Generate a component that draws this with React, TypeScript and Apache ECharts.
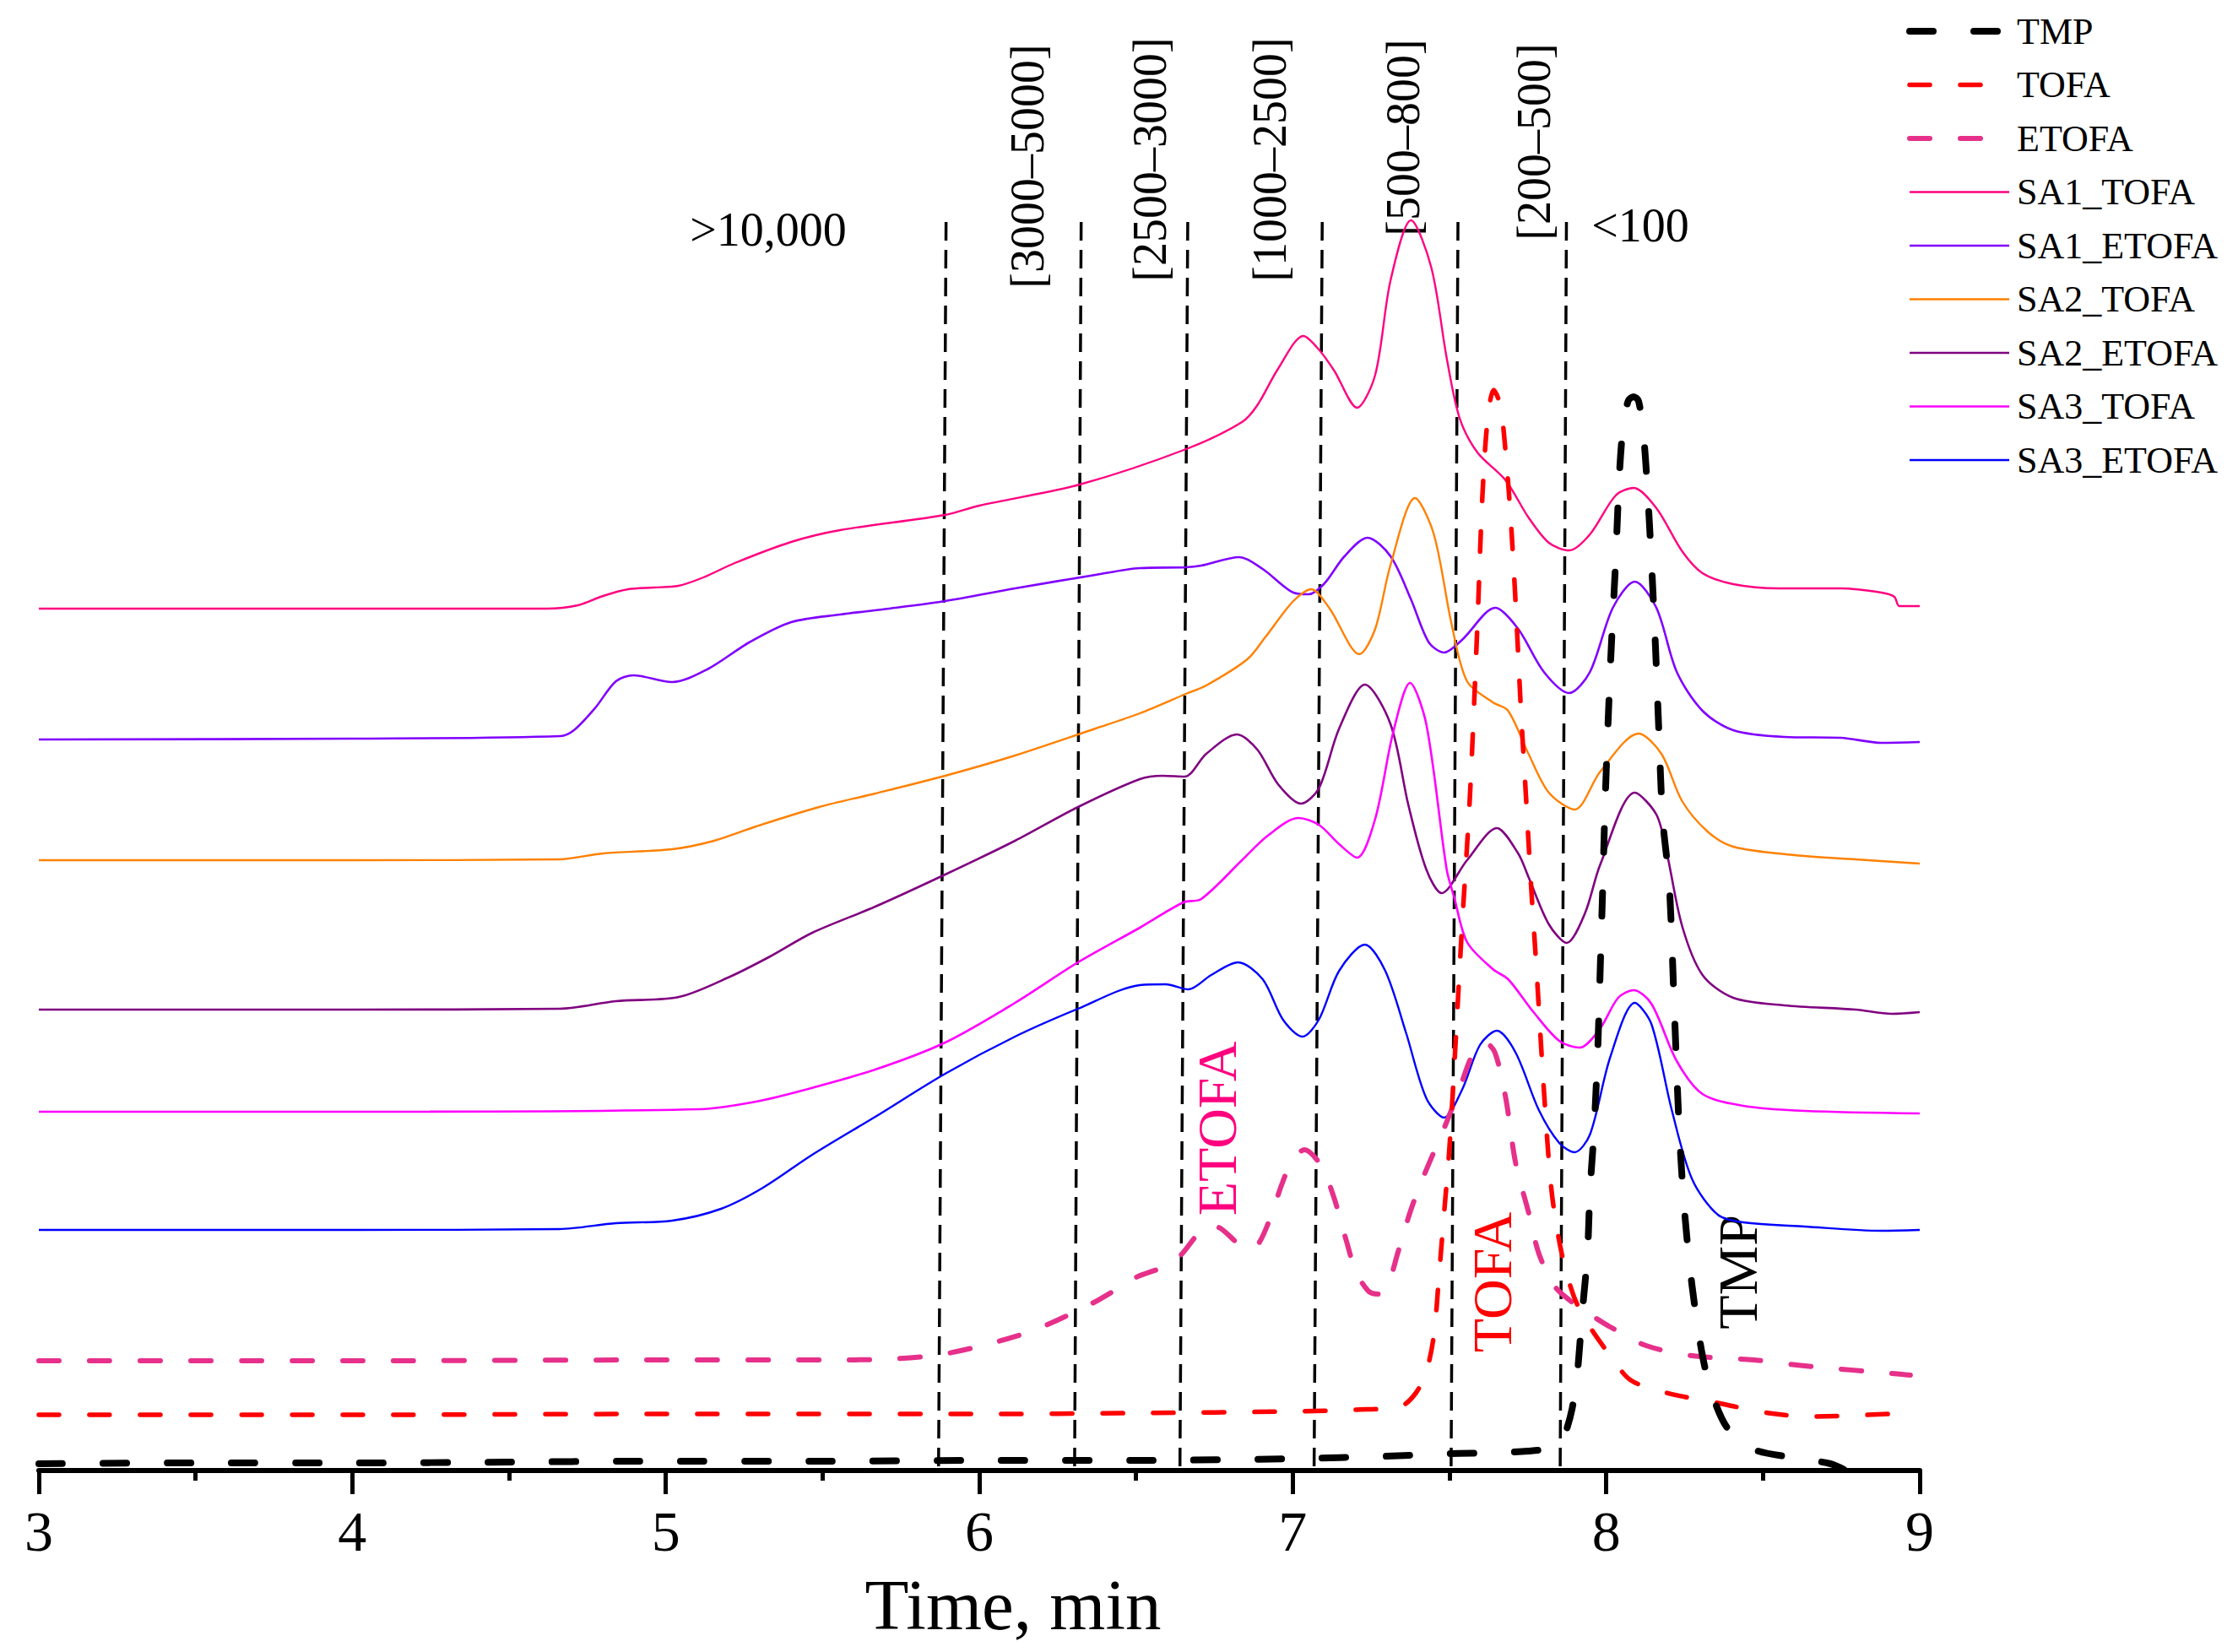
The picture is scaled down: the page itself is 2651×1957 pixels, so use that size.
import React, { useEffect, useRef } from 'react';
import * as echarts from 'echarts';

const FONT = '"Liberation Serif", "Times New Roman", Times, serif';

// time (min), signal (offset, arbitrary units)
const tmp: number[][] = [
  [3, 8], [3.5, 9], [4, 9], [4.5, 10], [4.9, 11], [5.5, 11], [6, 12], [6.5, 12], [7, 14], [7.3, 17],
  [7.5, 20], [7.65, 21], [7.75, 23], [7.82, 26], [7.85, 32], [7.87, 45], [7.891, 73], [7.907, 112],
  [7.923, 185], [7.94, 257], [7.948, 330], [7.961, 403], [7.973, 500], [7.981, 597], [7.989, 694],
  [7.997, 798], [8.013, 951], [8.03, 1078], [8.042, 1180], [8.054, 1237], [8.07, 1267], [8.087, 1272],
  [8.103, 1267], [8.119, 1226], [8.131, 1165], [8.144, 1078], [8.157, 976], [8.168, 874], [8.18, 772],
  [8.201, 694], [8.217, 548], [8.233, 403], [8.25, 306], [8.274, 218], [8.307, 136], [8.34, 88],
  [8.389, 49], [8.47, 25], [8.601, 15], [8.715, 8], [8.764, 0],
];

const tofa: number[][] = [
  [3, 66], [4, 66], [5, 67], [6, 67], [6.5, 68], [7, 70], [7.2, 72], [7.344, 76], [7.393, 92],
  [7.426, 117], [7.45, 160], [7.467, 233], [7.483, 306], [7.499, 378], [7.511, 451], [7.524, 538],
  [7.54, 645], [7.565, 798], [7.589, 1002], [7.605, 1155], [7.622, 1247], [7.641, 1280], [7.662, 1262],
  [7.679, 1206], [7.695, 1129], [7.711, 1027], [7.728, 900], [7.744, 798], [7.76, 694], [7.777, 597],
  [7.801, 451], [7.826, 330], [7.858, 257], [7.899, 204], [7.948, 170], [8.013, 136], [8.078, 107],
  [8.193, 92], [8.356, 80], [8.519, 68], [8.65, 64], [8.96, 68],
];

const etofa: number[][] = [
  [3, 130], [4, 130], [5, 131], [5.5, 131], [5.71, 132], [5.87, 137], [6.02, 149], [6.18, 167],
  [6.36, 198], [6.439, 215], [6.501, 229], [6.594, 242], [6.64, 254], [6.697, 280], [6.733, 290],
  [6.769, 287], [6.831, 267], [6.862, 262], [6.893, 270], [6.934, 305], [6.965, 339], [6.996, 365],
  [7.037, 380], [7.089, 362], [7.13, 325], [7.171, 272], [7.202, 235], [7.243, 212], [7.274, 209],
  [7.305, 222], [7.336, 259], [7.377, 309], [7.418, 349], [7.459, 385], [7.49, 412], [7.532, 452],
  [7.573, 492], [7.614, 507], [7.645, 495], [7.679, 442], [7.711, 364], [7.752, 306], [7.785, 257],
  [7.834, 219], [7.882, 202], [7.948, 185], [8.013, 170], [8.127, 148], [8.274, 136], [8.47, 131],
  [8.633, 124], [8.943, 114], [8.97, 113],
];

const sa1Tofa: number[][] = [
  [3, 1021], [4, 1021], [4.62, 1021], [4.72, 1025], [4.8, 1036], [4.88, 1044], [4.96, 1046],
  [5.04, 1048], [5.12, 1058], [5.22, 1075], [5.4, 1100], [5.556, 1114], [5.891, 1132], [6.0, 1143],
  [6.32, 1168], [6.66, 1210], [6.838, 1242], [6.887, 1262], [6.953, 1305], [7.034, 1344],
  [7.083, 1328], [7.132, 1303], [7.205, 1259], [7.263, 1298], [7.312, 1410], [7.377, 1481],
  [7.442, 1425], [7.491, 1318], [7.532, 1247], [7.589, 1206], [7.679, 1173], [7.752, 1129],
  [7.817, 1099], [7.882, 1090], [7.948, 1109], [8.03, 1155], [8.087, 1164], [8.16, 1140],
  [8.242, 1089], [8.307, 1063], [8.405, 1050], [8.552, 1045], [8.748, 1045], [8.878, 1040],
  [8.919, 1035], [8.935, 1024], [9, 1024],
];

const sa1Etofa: number[][] = [
  [3, 866], [4, 867], [4.663, 870], [4.707, 877], [4.774, 903], [4.841, 935], [4.897, 942],
  [5.02, 934], [5.132, 949], [5.266, 981], [5.4, 1005], [5.556, 1014], [5.712, 1021], [5.891, 1030],
  [6.114, 1045], [6.371, 1061], [6.512, 1069], [6.659, 1070], [6.708, 1072], [6.83, 1082],
  [6.904, 1068], [7.002, 1040], [7.05, 1038], [7.099, 1050], [7.165, 1083], [7.238, 1105],
  [7.312, 1083], [7.377, 1032], [7.434, 981], [7.483, 969], [7.54, 984], [7.646, 1022], [7.719, 997],
  [7.801, 946], [7.882, 921], [7.948, 946], [8.021, 1022], [8.091, 1053], [8.16, 1022], [8.225, 946],
  [8.307, 900], [8.405, 877], [8.568, 869], [8.748, 868], [8.878, 862], [9, 863],
];

const sa2Tofa: number[][] = [
  [3, 723], [4, 723], [4.66, 724], [4.8, 731], [5.02, 736], [5.154, 746], [5.288, 763],
  [5.489, 786], [5.668, 802], [5.891, 823], [6.114, 847], [6.371, 879], [6.512, 897], [6.659, 920],
  [6.724, 930], [6.855, 961], [6.912, 987], [7.002, 1030], [7.059, 1044], [7.116, 1022],
  [7.213, 967], [7.263, 997], [7.312, 1073], [7.39, 1152], [7.45, 1109], [7.507, 1002], [7.556, 935],
  [7.638, 910], [7.687, 900], [7.752, 849], [7.817, 803], [7.899, 783], [7.981, 828], [8.103, 873],
  [8.176, 849], [8.242, 793], [8.323, 757], [8.405, 739], [8.601, 729], [8.796, 724], [9, 719],
];

const sa2Etofa: number[][] = [
  [3, 546], [4, 546], [4.66, 547], [4.841, 556], [5.042, 561], [5.199, 584], [5.333, 609],
  [5.467, 637], [5.668, 668], [5.891, 706], [6.114, 746], [6.315, 786], [6.512, 819], [6.585, 823],
  [6.655, 822], [6.724, 849], [6.822, 872], [6.887, 854], [6.953, 813], [7.026, 790], [7.083, 808],
  [7.148, 879], [7.23, 931], [7.312, 884], [7.369, 788], [7.426, 712], [7.475, 684], [7.556, 723],
  [7.651, 761], [7.719, 731], [7.752, 703], [7.817, 647], [7.874, 625], [7.932, 660], [7.981, 718],
  [8.091, 803], [8.16, 777], [8.193, 732], [8.242, 645], [8.307, 587], [8.405, 560], [8.568, 551],
  [8.796, 546], [8.911, 541], [9, 543],
];

const sa3Tofa: number[][] = [
  [3, 425], [4, 425], [5.109, 428], [5.288, 437], [5.444, 451], [5.668, 475], [5.891, 507],
  [6.114, 554], [6.315, 602], [6.512, 643], [6.651, 673], [6.708, 677], [6.838, 723], [6.92, 752],
  [7.018, 773], [7.083, 765], [7.148, 742], [7.205, 726], [7.263, 772], [7.32, 874], [7.374, 933],
  [7.426, 884], [7.491, 712], [7.515, 679], [7.556, 626], [7.638, 594], [7.687, 582], [7.768, 543],
  [7.85, 509], [7.915, 501], [7.981, 524], [8.038, 560], [8.087, 569], [8.144, 553], [8.225, 485],
  [8.307, 446], [8.437, 432], [8.633, 426], [9, 423],
];

const sa3Etofa: number[][] = [
  [3, 285], [4, 285], [4.66, 286], [4.841, 293], [5.02, 296], [5.176, 310], [5.31, 335],
  [5.467, 374], [5.668, 419], [5.891, 470], [6.114, 514], [6.315, 547], [6.512, 575], [6.594, 576],
  [6.667, 570], [6.74, 587], [6.825, 602], [6.904, 582], [6.969, 534], [7.031, 514], [7.083, 534],
  [7.148, 592], [7.23, 623], [7.295, 592], [7.361, 519], [7.426, 441], [7.483, 418], [7.54, 451],
  [7.597, 504], [7.651, 521], [7.711, 495], [7.785, 427], [7.85, 388], [7.899, 377], [7.948, 398],
  [8.013, 490], [8.091, 554], [8.144, 529], [8.209, 427], [8.274, 345], [8.356, 303], [8.437, 294],
  [8.633, 289], [8.878, 284], [9, 285],
];

// molecular-weight boundaries (top / bottom time of each dashed divider)
const boundaryTop = [5.894, 6.325, 6.665, 7.094, 7.527, 7.873];
const boundaryBottom = [5.87, 6.304, 6.64, 7.068, 7.505, 7.853];
const boundaryTopValue = 1479;

const xTicks = [3, 4, 5, 6, 7, 8, 9];

const rangeLabels = ['>10,000', '[3000–5000]', '[2500–3000]', '[1000–2500]', '[500–800]', '[200–500]', '<100'];

const legendNames = ['TMP', 'TOFA', 'ETOFA', 'SA1_TOFA', 'SA1_ETOFA', 'SA2_TOFA', 'SA2_ETOFA', 'SA3_TOFA', 'SA3_ETOFA'];

export default function App() {
  const ref = useRef<HTMLDivElement>(null);
  useEffect(() => {
    const chart = echarts.init(ref.current!, null, { renderer: 'svg' });

    const curve = (name: string, data: number[][], color: string, width: number, dash?: number[], z = 3) => ({
      name,
      type: 'line',
      data,
      symbol: 'none',
      showSymbol: false,
      smooth: 0.3,
      silent: true,
      z,
      itemStyle: { color },
      lineStyle: { color, width, type: dash ? dash : 'solid', cap: dash ? 'round' : 'butt', join: 'round' },
    });

    const dividers = boundaryTop.map((t, i) => ({
      name: 'divider' + i,
      type: 'line',
      data: [[t, boundaryTopValue], [boundaryBottom[i], 0]],
      symbol: 'none',
      silent: true,
      z: 1,
      lineStyle: { color: '#000', width: 3.5, type: [22, 11] },
    }));

    const series = [
      ...dividers,
      curve('SA1_TOFA', sa1Tofa, '#FF0080', 2.4),
      curve('SA1_ETOFA', sa1Etofa, '#8000FF', 2.6),
      curve('SA2_TOFA', sa2Tofa, '#FF8000', 2.4),
      curve('SA2_ETOFA', sa2Etofa, '#800080', 2.6),
      curve('SA3_TOFA', sa3Tofa, '#FF00FF', 2.6),
      curve('SA3_ETOFA', sa3Etofa, '#0000FF', 2.4),
      curve('ETOFA', etofa, '#E6308A', 6, [24, 36], 4),
      curve('TOFA', tofa, '#FF0000', 5.5, [24, 36], 4),
      curve('TMP', tmp, '#000000', 8, [28, 48], 5),
    ];

    const rotatedText = (text: string, x: number, y: number, size: number, color: string) => ({
      type: 'text',
      x,
      y,
      rotation: Math.PI / 2,
      silent: true,
      style: { text, fontFamily: FONT, fontSize: size, fill: color, align: 'center', verticalAlign: 'middle' },
    });
    const flatText = (text: string, x: number, y: number, size: number, color: string) => ({
      type: 'text',
      x,
      y,
      silent: true,
      style: { text, fontFamily: FONT, fontSize: size, fill: color, align: 'center', verticalAlign: 'middle' },
    });

    const option = {
      animation: false,
      backgroundColor: '#ffffff',
      grid: { left: 46, right: 377, top: 0, bottom: 215, containLabel: false },
      legend: {
        data: legendNames,
        orient: 'vertical',
        left: 2258,
        top: 15,
        padding: 0,
        itemWidth: 118,
        itemHeight: 2,
        itemGap: 19.5,
        selectedMode: false,
        itemStyle: { opacity: 0 },
        lineStyle: { width: 'inherit' },
        textStyle: { fontFamily: FONT, fontSize: 44, color: '#000', padding: [0, 0, 0, 4] },
      },
      xAxis: {
        type: 'value',
        min: 3,
        max: 9,
        interval: 1,
        splitLine: { show: false },
        axisLine: { show: true, onZero: false, lineStyle: { color: '#000', width: 6 } },
        axisTick: { show: true, inside: false, length: 28, lineStyle: { color: '#000', width: 5 } },
        minorTick: { show: true, splitNumber: 2, length: 12, lineStyle: { color: '#000', width: 5 } },
        axisLabel: {
          fontFamily: FONT,
          fontSize: 68,
          color: '#000',
          margin: 38,
          formatter: (v: number) => (xTicks.includes(v) ? String(v) : ''),
        },
      },
      yAxis: { type: 'value', min: 0, max: 1742, show: false },
      graphic: [
        flatText(rangeLabels[0], 910, 272, 56, '#000'),
        rotatedText(rangeLabels[1], 1217, 197, 56, '#000'),
        rotatedText(rangeLabels[2], 1362, 189, 56, '#000'),
        rotatedText(rangeLabels[3], 1504, 189, 56, '#000'),
        rotatedText(rangeLabels[4], 1662, 163, 56, '#000'),
        rotatedText(rangeLabels[5], 1817, 168, 56, '#000'),
        flatText(rangeLabels[6], 1943, 267, 56, '#000'),
        rotatedText('ETOFA', 1441, 1337, 66, '#FF007F'),
        rotatedText('TOFA', 1767, 1519, 66, '#FF0000'),
        rotatedText('TMP', 2058, 1507, 66, '#000'),
        flatText('Time, min', 1200, 1901, 85, '#000'),
      ],
      series,
    };

    chart.setOption(option as any);
    return () => chart.dispose();
  }, []);

  return (
    <div
      ref={ref}
      style={{ position: 'absolute', left: 0, top: 0, width: 2651, height: 1957, background: '#fff' }}
    />
  );
}
